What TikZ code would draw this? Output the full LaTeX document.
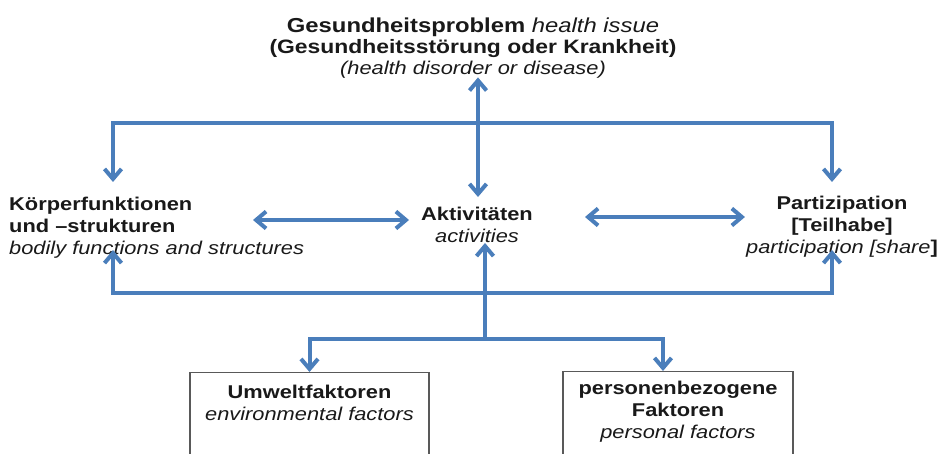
\documentclass[tikz,border=0pt]{standalone}
\usepackage{fontspec}
\setmainfont{Liberation Sans}[FakeStretch=1.18]
\usetikzlibrary{positioning,arrows.meta}
\definecolor{icfblue}{HTML}{4A7EBB}

\tikzset{
  flow/.style={line width=4pt,draw=icfblue,>={Straight Barb[length=10pt,width=17pt]}},
  term/.style={inner sep=0pt,text=black!90,font=\fontsize{18.5pt}{22pt}\selectfont},
  factorbox/.style={draw=black!65,line width=1.3pt,minimum width=239pt,minimum height=110pt,anchor=north},
}

\begin{document}
\begin{tikzpicture}[x=1pt,y=-1pt]
	\useasboundingbox (0,0) rectangle (945,454);
	
	\node[term,align=center,font=\fontsize{19.4pt}{21pt}\selectfont] (problem) at (473,48) {{\fontsize{20.2pt}{21pt}\selectfont\textbf{Gesundheitsproblem} \textit{health issue}}\\\textbf{(Gesundheitsstörung oder Krankheit)}\\{\fontsize{18.5pt}{21pt}\selectfont\textit{(health disorder or disease)}}};
	\node[term,align=left,anchor=west] (koerper) at (9,228) {\textbf{Körperfunktionen}\\\textbf{und –strukturen}\\\textit{bodily functions and structures}};
	\node[term,align=center] (aktiv) at (477,225) {\textbf{Aktivitäten}\\\textit{activities}};
	\node[term,align=center] (partiz) at (842,227) {\textbf{Partizipation}\\\textbf{[Teilhabe]}\\\textit{participation [share}\textbf{]}};
	
	\node[factorbox] (umweltbox) at (309.5,372) {};
	\node[factorbox,minimum width=230pt] (personenbox) at (678,371) {};
	\node[term,align=center,below=12.5pt of umweltbox.north] (umwelt) {\textbf{Umweltfaktoren}\\\textit{environmental factors}};
	\node[term,align=center,below=9.5pt of personenbox.north] (personen) {\textbf{personenbezogene}\\\textbf{Faktoren}\\\textit{personal factors}};
	
	\coordinate (topbus) at (478,123);
	\coordinate (kdown) at (113,182);
	\coordinate (pdown) at (832,182);
	\coordinate (botbus) at (485,293);
	\coordinate (kup) at (113,250);
	\coordinate (pup) at (832,250);
	\coordinate (branch) at (485,339);
	\coordinate (kright) at (253,220);
	\coordinate (pleft) at (585,217);
	
	\draw[flow,<->] ([yshift=1pt]problem.south -| topbus) -- ([yshift=10pt]aktiv.north -| topbus);
	\draw[flow,<->] (kdown) |- (topbus) -| (pdown);
	\draw[flow,<->] (kup) |- (botbus) -| (pup);
	\draw[flow,->] (branch) -- (aktiv.south -| branch);
	\draw[flow,->] (branch) -| (umweltbox.north);
	\draw[flow,->] (branch) -| ([xshift=-15pt]personenbox.north);
	\draw[flow,<->] (kright) -- ([xshift=-12pt]aktiv.west |- kright);
	\draw[flow,<->] (pleft) -- ([xshift=-1pt]partiz.west |- pleft);
\end{tikzpicture}
\end{document}
